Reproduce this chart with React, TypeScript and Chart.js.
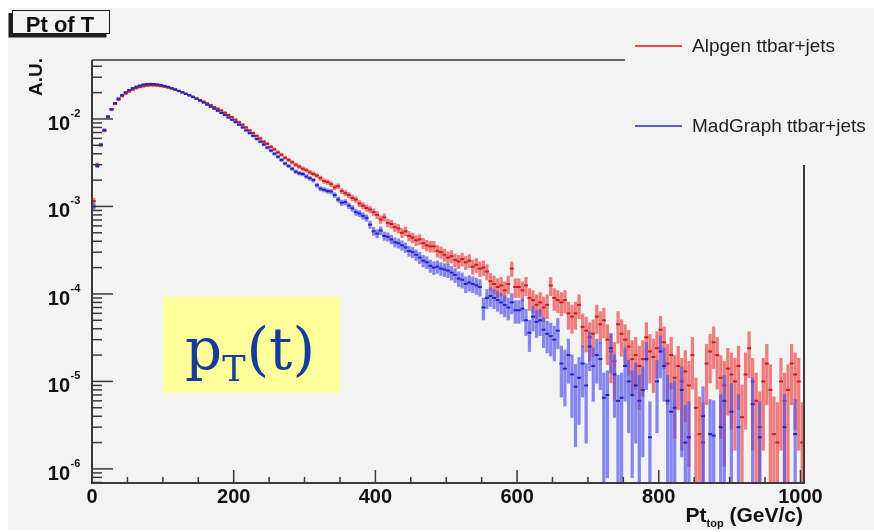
import React, { useEffect, useRef } from "react";
import { Chart, registerables } from "chart.js";

Chart.register(...registerables);

// ---------------- data ----------------
const BIN_WIDTH = 5; // GeV
const X_MIN = 0;
const X_MAX = 1005;
const Y_MIN = 6.9e-7;
const Y_MAX = 4.72e-2;

const seriesNames = ["Alpgen ttbar+jets", "MadGraph ttbar+jets"];
const xTitleMain = "Pt";
const xTitleSub = "top";
const xTitleUnit = "(GeV/c)";
const yTitle = "A.U.";
const plotTitle = "Pt of T";

const xTickLabels = [0, 200, 400, 600, 800, 1000];
const xMinorStep = 50;
const yDecadeExponents = [-6, -5, -4, -3, -2];

// Alpgen ttbar+jets, 5 GeV bins starting at 0
const alpgen: (number | null)[] = [
  1.15e-3, 3.0e-3, 5.0e-3, 7.3e-3, 1.05e-2, 1.27e-2, 1.48e-2, 1.66e-2, 1.82e-2, 1.95e-2,
  2.06e-2, 2.16e-2, 2.24e-2, 2.31e-2, 2.36e-2, 2.40e-2, 2.42e-2, 2.42e-2, 2.40e-2, 2.37e-2,
  2.33e-2, 2.28e-2, 2.22e-2, 2.15e-2, 2.08e-2, 2.01e-2, 1.94e-2, 1.87e-2, 1.80e-2, 1.72e-2,
  1.65e-2, 1.58e-2, 1.51e-2, 1.44e-2, 1.37e-2, 1.31e-2, 1.25e-2, 1.18e-2, 1.11e-2, 1.05e-2,
  9.8e-3, 9.2e-3, 8.6e-3, 8.0e-3, 7.4e-3, 6.9e-3, 6.4e-3, 6.0e-3, 5.5e-3, 5.2e-3,
  4.8e-3, 4.5e-3, 4.15e-3, 3.9e-3, 3.6e-3, 3.4e-3, 3.2e-3, 3.0e-3, 2.85e-3, 2.7e-3,
  2.6e-3, 2.45e-3, 2.35e-3, 2.25e-3, 2.1e-3, 1.95e-3, 1.9e-3, 1.8e-3, 1.65e-3, 1.7e-3,
  1.5e-3, 1.42e-3, 1.35e-3, 1.25e-3, 1.2e-3, 1.08e-3, 1.02e-3, 9.6e-4, 9.2e-4, 8.6e-4,
  8.0e-4, 7.1e-4, 7.5e-4, 6.5e-4, 6.3e-4, 5.8e-4, 5.6e-4, 5.0e-4, 5.2e-4, 4.6e-4,
  4.4e-4, 4.1e-4, 4.2e-4, 3.8e-4, 3.6e-4, 3.5e-4, 3.5e-4, 3.1e-4, 3.0e-4, 2.8e-4,
  2.6e-4, 2.7e-4, 2.45e-4, 2.35e-4, 2.5e-4, 2.3e-4, 2.4e-4, 2.05e-4, 2.15e-4, 1.95e-4,
  2.0e-4, 1.8e-4, 1.4e-4, 1.3e-4, 1.2e-4, 1.25e-4, 1.1e-4, 1.3e-4, 1.95e-4, 1.2e-4,
  1.2e-4, 1.1e-4, 1.25e-4, 9.0e-5, 8.5e-5, 7.5e-5, 8.0e-5, 7.0e-5, 7.5e-5, 1.25e-4,
  9.0e-5, 8.5e-5, 8.0e-5, 8.5e-5, 6.0e-5, 5.5e-5, 6.0e-5, 7.5e-5, 4.2e-5, 3.8e-5,
  3.2e-5, 3.5e-5, 5.5e-5, 4.5e-5, 5.0e-5, 3.0e-5, 2.2e-5, 1.7e-5, 4.5e-5, 3.5e-5,
  3.0e-5, 2.5e-5, 1.8e-5, 2.0e-5, 1.5e-5, 1.8e-5, 3.2e-5, 2.2e-5, 1.9e-5, 2.4e-5,
  3.9e-5, 2.8e-5, 1.6e-5, 2.0e-5, 1.1e-5, 1.5e-5, 1.0e-5, 1.3e-5, 9.0e-6, 2.0e-5,
  5.0e-6, 2.5e-6, 2.0e-6, 1.6e-5, 2.2e-5, 2.8e-5, 2.0e-5, 1.1e-5, 9.0e-6, 1.4e-5,
  1.2e-5, 1.0e-5, 1.5e-5, 3.9e-6, 1.2e-5, 2.4e-5, 1.0e-5, 6.0e-6, 3.0e-6, 1.0e-5,
  1.6e-5, 8.0e-6, 2.5e-6, 2.0e-6, 1.0e-5, 6.0e-6, 8.0e-6, 1.6e-5, 1.2e-5, 1.0e-5,
  2.0e-6,
];

// MadGraph ttbar+jets, same binning (null = empty bin)
const madgraph: (number | null)[] = [
  1.0e-3, 2.9e-3, 5.1e-3, 7.5e-3, 1.07e-2, 1.30e-2, 1.52e-2, 1.71e-2, 1.88e-2, 2.02e-2,
  2.14e-2, 2.25e-2, 2.34e-2, 2.41e-2, 2.47e-2, 2.51e-2, 2.52e-2, 2.51e-2, 2.48e-2, 2.44e-2,
  2.39e-2, 2.33e-2, 2.26e-2, 2.18e-2, 2.10e-2, 2.02e-2, 1.94e-2, 1.86e-2, 1.78e-2, 1.70e-2,
  1.62e-2, 1.54e-2, 1.46e-2, 1.38e-2, 1.31e-2, 1.24e-2, 1.17e-2, 1.11e-2, 1.04e-2, 9.8e-3,
  9.2e-3, 8.6e-3, 8.0e-3, 7.4e-3, 6.9e-3, 6.4e-3, 5.9e-3, 5.5e-3, 5.1e-3, 4.7e-3,
  4.35e-3, 4.0e-3, 3.7e-3, 3.4e-3, 3.1e-3, 2.9e-3, 2.7e-3, 2.5e-3, 2.4e-3, 2.35e-3,
  2.2e-3, 2.1e-3, 2.0e-3, 1.75e-3, 1.6e-3, 1.55e-3, 1.5e-3, 1.48e-3, 1.35e-3, 1.2e-3,
  1.1e-3, 1.12e-3, 1.02e-3, 9.5e-4, 8.6e-4, 8.3e-4, 7.8e-4, 7.4e-4, 6.2e-4, 5.2e-4,
  4.9e-4, 5.3e-4, 4.6e-4, 4.5e-4, 4.2e-4, 3.9e-4, 3.8e-4, 3.6e-4, 3.4e-4, 3.1e-4,
  3.0e-4, 2.8e-4, 2.6e-4, 2.4e-4, 2.3e-4, 2.1e-4, 2.0e-4, 2.05e-4, 1.95e-4, 1.9e-4,
  1.85e-4, 1.75e-4, 1.65e-4, 1.5e-4, 1.45e-4, 1.3e-4, 1.35e-4, 1.3e-4, 1.25e-4, 1.2e-4,
  7.0e-5, 9.0e-5, 9.5e-5, 9.0e-5, 8.5e-5, 8.0e-5, 7.5e-5, 7.0e-5, 8.0e-5, 6.5e-5,
  6.5e-5, 6.8e-5, 5.0e-5, 3.6e-5, 5.5e-5, 4.8e-5, 5.0e-5, 3.9e-5, 3.5e-5, 3.3e-5,
  3.0e-5, 3.8e-5, 1.6e-5, 1.4e-5, 2.0e-5, 1.2e-5, 8.7e-6, 1.1e-5, 1.6e-5, 9.0e-6,
  2.5e-5, 1.5e-5, 2.0e-5, 1.8e-5, 6.5e-6, 7.0e-6, 2.4e-5, 1.2e-5, 6.0e-6, 6.5e-6,
  1.5e-5, 1.0e-5, 7.0e-6, 9.0e-6, 6.0e-6, 8.0e-6, 1.8e-5, 2.3e-6, null, 1.0e-5,
  2.2e-5, 1.5e-5, 6.0e-6, 4.5e-6, 5.0e-6, null, 8.0e-6, 2.0e-6, 2.3e-6, null,
  null, null, 4.0e-6, null, 2.5e-6, 2.4e-6, null, 3.0e-6, 6.0e-6, null,
  4.5e-6, null, 3.0e-6, null, null, null, 5.5e-6, null, 2.3e-6, null,
  null, null, null, null, null, 3.0e-6, null, null, 2.5e-6, null,
  null,
];

// per-event weight used for the statistical error of each bin
const alpgenEventWeight = 7e-6;
const madgraphEventWeight = 5.5e-6;

// ---------------- styles ----------------
const BG = "#f3f3f3";
const SANS = '"Liberation Sans", Arial, Helvetica, sans-serif';
const SERIF = '"DejaVu Serif", "Liberation Serif", serif';
const RED_BAR = "rgba(236, 70, 70, 0.68)";
const RED_MARK = "#c62020";
const BLUE_BAR = "rgba(82, 82, 238, 0.68)";
const BLUE_MARK = "#2424c0";
const RED_LEGEND = "#ee4a4a";
const BLUE_LEGEND = "#5a5ad2";
const AXIS = "#3a3a3a";

function binCentre(i: number) {
  return i * BIN_WIDTH + BIN_WIDTH / 2;
}

function errorBars(values: (number | null)[], weight: number) {
  const out: any[] = [];
  values.forEach((v, i) => {
    if (v == null) return;
    const err = Math.sqrt(v * weight);
    const lo = v - err > 0 ? v - err : Y_MIN / 10;
    out.push({ x: binCentre(i), y: [lo, v + err] });
  });
  return out;
}

function centres(values: (number | null)[]) {
  const out: any[] = [];
  values.forEach((v, i) => {
    if (v == null) return;
    out.push({ x: binCentre(i), y: v });
  });
  return out;
}

function seg(ctx: CanvasRenderingContext2D, x1: number, y1: number, x2: number, y2: number) {
  ctx.beginPath();
  ctx.moveTo(x1, y1);
  ctx.lineTo(x2, y2);
  ctx.stroke();
}

const decorPlugin = {
  id: "decor",
  beforeDraw(chart: any) {
    const ctx = chart.ctx;
    ctx.save();
    ctx.fillStyle = BG;
    ctx.fillRect(0, 0, chart.width, chart.height);
    ctx.restore();
  },
  afterDraw(chart: any) {
    const ctx: CanvasRenderingContext2D = chart.ctx;
    const a = chart.chartArea;
    const xs = chart.scales.x;
    const ys = chart.scales.y;
    ctx.save();

    // ---- yellow annotation box ----
    ctx.fillStyle = "#ffff99";
    ctx.fillRect(155, 289, 177, 96);
    ctx.fillStyle = "#143c98";
    ctx.textAlign = "left";
    ctx.textBaseline = "alphabetic";
    let px = 177;
    ctx.font = `58px ${SERIF}`;
    ctx.fillText("p", px, 361);
    px += ctx.measureText("p").width;
    ctx.font = `35px ${SERIF}`;
    ctx.fillText("T", px, 373);
    px += ctx.measureText("T").width + 1;
    ctx.font = `58px ${SERIF}`;
    ctx.fillText("(t)", px, 361);

    // ---- frame ----
    ctx.strokeStyle = AXIS;
    ctx.lineWidth = 2;
    seg(ctx, a.left, a.top, a.left, a.bottom + 1);
    seg(ctx, a.left - 1, a.bottom, a.right + 1, a.bottom);
    seg(ctx, a.right, 157, a.right, a.bottom);
    ctx.lineWidth = 1.5;
    seg(ctx, a.left, a.top, 617, a.top);

    // ---- y ticks (log) ----
    ctx.lineWidth = 1.5;
    for (let e = -7; e <= -1; e++) {
      for (let m = 1; m <= 9; m++) {
        const v = m * Math.pow(10, e);
        if (v < Y_MIN || v > Y_MAX) continue;
        const py = ys.getPixelForValue(v);
        const len = m === 1 ? 21 : 10;
        seg(ctx, a.left, py, a.left + len, py);
      }
    }
    // ---- x ticks ----
    for (let v = X_MIN; v <= X_MAX; v += xMinorStep) {
      const pxv = xs.getPixelForValue(v);
      const len = xTickLabels.includes(v) ? 13 : 6;
      seg(ctx, pxv, a.bottom, pxv, a.bottom - len);
    }

    // ---- tick labels ----
    ctx.fillStyle = "#111";
    ctx.font = `bold 20px ${SANS}`;
    ctx.textAlign = "center";
    xTickLabels.forEach((v) => {
      ctx.fillText(String(v), xs.getPixelForValue(v), 495);
    });
    yDecadeExponents.forEach((e) => {
      const py = ys.getPixelForValue(Math.pow(10, e));
      ctx.font = `bold 20px ${SANS}`;
      ctx.textAlign = "right";
      ctx.fillText("10", 62, py + 11);
      ctx.font = `bold 11px ${SANS}`;
      ctx.textAlign = "left";
      ctx.fillText(String(e), 62.5, py - 2);
    });

    // ---- axis titles ----
    ctx.save();
    ctx.translate(34, 50);
    ctx.rotate(-Math.PI / 2);
    ctx.font = `bold 19px ${SANS}`;
    ctx.textAlign = "right";
    ctx.fillText(yTitle, 0, 0);
    ctx.restore();

    ctx.textAlign = "left";
    ctx.font = `bold 21px ${SANS}`;
    const wMain = ctx.measureText(xTitleMain).width;
    const wSpace = ctx.measureText(" ").width;
    const wUnit = ctx.measureText(xTitleUnit).width;
    ctx.font = `bold 11px ${SANS}`;
    const wSub = ctx.measureText(xTitleSub).width;
    let tx = 795 - (wMain + wSub + wSpace + wUnit);
    ctx.font = `bold 21px ${SANS}`;
    ctx.fillText(xTitleMain, tx, 514);
    tx += wMain;
    ctx.font = `bold 11px ${SANS}`;
    ctx.fillText(xTitleSub, tx, 519);
    tx += wSub + wSpace;
    ctx.font = `bold 21px ${SANS}`;
    ctx.fillText(xTitleUnit, tx, 514);

    // ---- title box ----
    ctx.fillStyle = "#1c1c1c";
    ctx.fillRect(0.5, 5, 98, 24.5);
    ctx.fillStyle = BG;
    ctx.fillRect(4, 2, 98, 24);
    ctx.strokeStyle = "#1c1c1c";
    ctx.lineWidth = 1;
    ctx.strokeRect(4.5, 2.5, 97, 23);
    ctx.fillStyle = "#111";
    ctx.font = `bold 22px ${SANS}`;
    ctx.textAlign = "center";
    ctx.fillText(plotTitle, 52, 23.5);

    // ---- legend ----
    ctx.lineWidth = 2;
    ctx.strokeStyle = RED_LEGEND;
    seg(ctx, 627, 38, 674, 38);
    ctx.strokeStyle = BLUE_LEGEND;
    seg(ctx, 627, 118, 674, 118);
    ctx.fillStyle = "#1e1e1e";
    ctx.font = `19px ${SANS}`;
    ctx.textAlign = "left";
    ctx.fillText(seriesNames[0], 684, 44);
    ctx.fillText(seriesNames[1], 684, 124);

    ctx.restore();
  },
};

function buildConfig(): any {
  return {
    type: "bar",
    data: {
      datasets: [
        {
          type: "line",
          label: seriesNames[1] + " points",
          data: centres(madgraph),
          showLine: false,
          pointStyle: "line",
          pointRadius: 2,
          pointBorderWidth: 2,
          pointBorderColor: BLUE_MARK,
          pointBackgroundColor: BLUE_MARK,
          borderColor: BLUE_MARK,
          order: 0,
          clip: 0,
        },
        {
          type: "bar",
          label: seriesNames[1],
          data: errorBars(madgraph, madgraphEventWeight),
          backgroundColor: BLUE_BAR,
          borderWidth: 0,
          barThickness: 2.6,
          grouped: false,
          order: 1,
          clip: 0,
        },
        {
          type: "line",
          label: seriesNames[0] + " points",
          data: centres(alpgen),
          showLine: false,
          pointStyle: "line",
          pointRadius: 2,
          pointBorderWidth: 2,
          pointBorderColor: RED_MARK,
          pointBackgroundColor: RED_MARK,
          borderColor: RED_MARK,
          order: 2,
          clip: 0,
        },
        {
          type: "bar",
          label: seriesNames[0],
          data: errorBars(alpgen, alpgenEventWeight),
          backgroundColor: RED_BAR,
          borderWidth: 0,
          barThickness: 2.6,
          grouped: false,
          order: 3,
          clip: 0,
        },
      ],
    },
    options: {
      animation: false,
      responsive: false,
      maintainAspectRatio: false,
      events: [],
      layout: { padding: { left: 84, right: 70, top: 52, bottom: 47 } },
      plugins: {
        legend: { display: false },
        tooltip: { enabled: false },
        title: { display: false },
      },
      scales: {
        x: { type: "linear", min: X_MIN, max: X_MAX, display: false, offset: false, grid: { offset: false } },
        y: { type: "logarithmic", min: Y_MIN, max: Y_MAX, display: false, beginAtZero: false },
      },
    },
    plugins: [decorPlugin],
  };
}

export default function App() {
  const ref = useRef<HTMLCanvasElement>(null);
  useEffect(() => {
    if (!ref.current) return;
    const chart = new Chart(ref.current, buildConfig());
    return () => chart.destroy();
  }, []);
  return (
    <div
      style={{
        position: "fixed",
        left: 0,
        top: 0,
        width: 874,
        height: 532,
        background: "#ffffff",
        overflow: "hidden",
      }}
    >
      <canvas
        ref={ref}
        width={866}
        height={522}
        style={{ position: "absolute", left: 8, top: 8, width: 866, height: 522 }}
      />
    </div>
  );
}
